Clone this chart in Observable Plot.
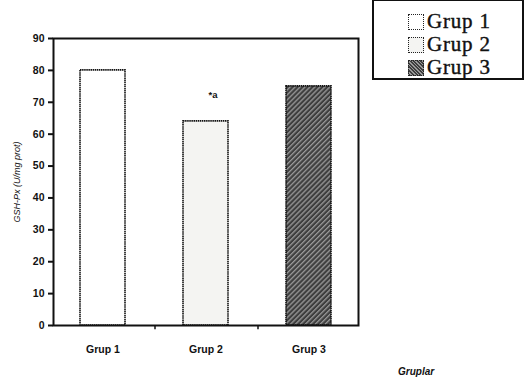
<!DOCTYPE html>
<html><head><meta charset="utf-8">
<script src="https://cdn.jsdelivr.net/npm/d3@7"></script>
<script src="https://cdn.jsdelivr.net/npm/@observablehq/plot@0.6"></script>
<style>
body{margin:0;background:#fff}
#wrap{position:relative;width:525px;height:387px;overflow:hidden}
#legend{position:absolute;left:372px;top:-1px;width:148px;height:77px;border:2px solid #111;background:#fff;font-family:"Liberation Serif",serif;font-size:21px;color:#111;-webkit-text-stroke:0.4px #111}
#legend .row{position:absolute;left:34px;height:23px;line-height:23px;display:flex;align-items:center;letter-spacing:0.8px}
#legend .sw{width:16px;height:16px;border:1.8px dotted #222;margin-right:3px;box-sizing:border-box}
#xlab{position:absolute;left:398px;top:366px;font-family:"Liberation Sans",sans-serif;font-style:italic;font-weight:bold;font-size:10px;color:#111}
</style>
</head><body>
<div id="wrap"></div>
<script>
const groups = ["Grup 1", "Grup 2", "Grup 3"];
const values = [80, 64, 75];
const fills = ["#ffffff", "#f4f4f2", "url(#hatch3)"];
const yTicks = [0, 10, 20, 30, 40, 50, 60, 70, 80, 90];
const annotations = ["", "*a", ""];
const yLabel = "GSH-Px (U/mg prot)";
const xTitle = "Gruplar";

const data = groups.map((g, i) => ({group: g, value: values[i], fill: fills[i], note: annotations[i]}));

const plot = Plot.plot({
  width: 525, height: 387,
  marginLeft: 53, marginRight: 167, marginTop: 38, marginBottom: 62,
  style: {fontFamily: "Liberation Sans, sans-serif", fontSize: "9px", fontWeight: "bold", color: "#111", background: "transparent"},
  x: {domain: groups, paddingInner: 0.56, paddingOuter: 0.25, label: null},
  y: {domain: [0, 90], ticks: yTicks, label: null},
  marks: [
    Plot.barY(data, {x: "group", y: "value", fill: "fill", stroke: "#111", strokeWidth: 1.6, strokeDasharray: "1.5,0.6"}),
    Plot.text(data.filter(d => d.note), {x: "group", y: "value", text: "note", dy: -26, dx: 7, fontSize: 9.5, fontWeight: "bold"}),
    Plot.ruleX(groups.slice(0, 2), {x: d => d, dx: 52, y1: 0, y2: -1.3, stroke: "#111", strokeWidth: 1.5}),
    Plot.axisY({ticks: yTicks, tickSize: 5, tickPadding: 4, strokeWidth: 2, fontSize: 10.5, fontWeight: "bold", label: yLabel, labelAnchor: "center", labelArrow: "none", labelOffset: 40}),
    Plot.axisX({tickSize: 0, tickPadding: 20, fontSize: 10.5, fontWeight: "bold"}),
    Plot.frame({stroke: "#111", strokeWidth: 2})
  ]
});

// hatch pattern for Grup 3
const ns = "http://www.w3.org/2000/svg";
const defs = document.createElementNS(ns, "defs");
defs.innerHTML = `<pattern id="hatch3" patternUnits="userSpaceOnUse" width="3.5" height="3.5" patternTransform="rotate(45)">
  <rect width="3.5" height="3.5" fill="#3e3e3e"/>
  <rect width="1.3" height="3.5" fill="#9a9a9a"/>
</pattern>`;
plot.insertBefore(defs, plot.firstChild);

// style the y-axis label italic
plot.querySelectorAll("text").forEach(t => {
  if (t.textContent.includes("GSH-Px")) { t.style.fontStyle = "italic"; t.style.fontWeight = "normal"; t.style.fontSize = "9px"; t.style.fill = "#111"; }
});

const wrap = document.getElementById("wrap");
wrap.appendChild(plot);

// legend
const legend = document.createElement("div");
legend.id = "legend";
groups.forEach((g, i) => {
  const row = document.createElement("div");
  row.className = "row";
  row.style.top = (9 + i * 23) + "px";
  const sw = document.createElement("div");
  sw.className = "sw";
  sw.style.background = i === 2 ? "repeating-linear-gradient(45deg,#3e3e3e 0 1.4px,#9a9a9a 1.4px 2.5px)" : fills[i];
  const tx = document.createElement("span");
  tx.textContent = g;
  row.appendChild(sw); row.appendChild(tx);
  legend.appendChild(row);
});
wrap.appendChild(legend);

const xl = document.createElement("div");
xl.id = "xlab";
xl.textContent = xTitle;
wrap.appendChild(xl);
</script>
</body></html>
